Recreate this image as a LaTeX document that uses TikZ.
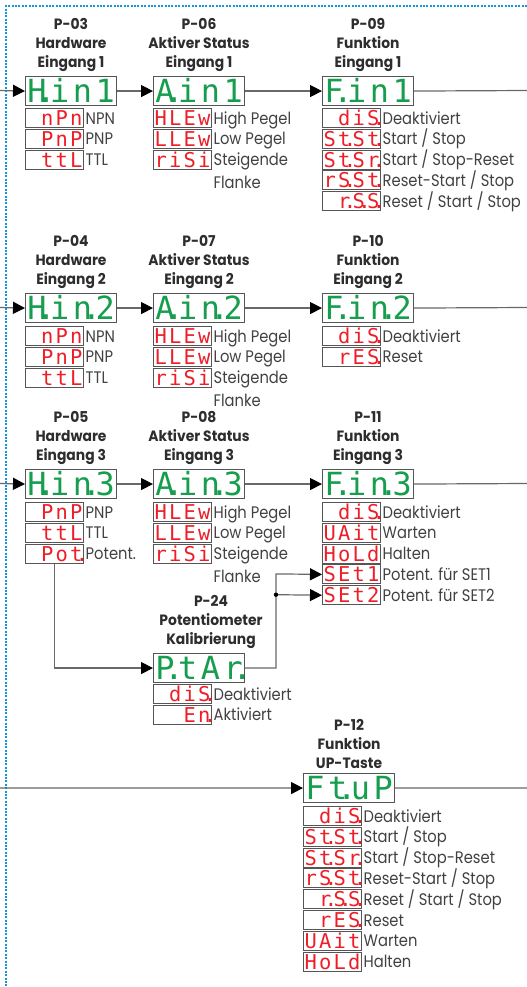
\documentclass[tikz,border=0pt]{standalone}
\usepackage{fontspec}
\setmainfont[FakeStretch=0.88]{Poppins}
\newfontfamily\hdfont[FakeStretch=0.93]{Poppins}
\newfontfamily\segfont{DejaVu Sans Mono}
\usetikzlibrary{arrows.meta,calc}

\definecolor{segG}{RGB}{22,158,78}
\definecolor{segR}{RGB}{238,30,40}
\definecolor{ln}{RGB}{105,105,105}
\definecolor{bd}{RGB}{85,85,85}
\definecolor{dotb}{RGB}{20,150,220}
\definecolor{txt}{RGB}{65,65,65}
\definecolor{hd}{RGB}{45,45,45}

\newlength\cw
\newcommand\cells[4]{\makebox[\cw][c]{#1}\makebox[\cw][c]{#2}\makebox[\cw][c]{#3}\makebox[\cw][c]{#4}}
\newcommand\G[4]{\setlength\cw{22.75bp}\cells{#1}{#2}{#3}{#4}}
\newcommand\R[4]{\setlength\cw{14.5bp}\cells{#1}{#2}{#3}{#4}}
\newcommand\dotp{\rlap{\kern-0.32em.}}
\newcommand\twoline[2]{\smash{\begin{tabular}[t]{@{}l@{}}#1\\#2\end{tabular}}}

\tikzset{
  disp/.style={draw=bd, line width=1.1bp, minimum width=91bp, minimum height=29bp, inner sep=0pt,
    text=segG, font=\segfont\fontsize{32}{32}\selectfont, text height=23.3bp, text depth=0pt, anchor=north west},
  optbox/.style={draw=bd, line width=1bp, minimum width=58bp, minimum height=19bp, inner sep=0pt,
    text=segR, font=\segfont\fontsize{20.5}{20.5}\selectfont, text height=15bp, text depth=0pt, anchor=north west},
  lab/.style={anchor=west, inner sep=1.5bp, text=txt, font=\fontsize{16.8}{22.5}\selectfont, text height=12bp, text depth=0pt},
  hdr/.style={anchor=south, align=center, text=hd, font=\hdfont\bfseries\fontsize{15}{18.8}\selectfont, inner sep=0pt},
  conn/.style={draw=ln, line width=1.2bp},
  arr/.style={conn, -{Triangle[length=12bp,width=12bp,color=black]}},
  frame/.style={draw=dotb, line width=2.5bp, dash pattern=on 2bp off 1.4bp}
}
\newcommand\opt[8]{\node[optbox] (#1) at (#2,#3) {\R{#4}{#5}{#6}{#7}};\node[lab] (#1t) at (#1.east) {#8};}

\begin{document}
\begin{tikzpicture}[x=1bp,y=-1bp]
\useasboundingbox (0,0) rectangle (527,987);
\draw[frame] (527,6) -- (6,6) -- (6,987);

% ---------- Row 1 ----------
\node[disp] (H1) at (25,76) {\G{H\dotp}{i}{n}{1}};
\node[disp] (A1) at (153,76) {\G{A\dotp}{i}{n}{1}};
\node[disp] (F1) at (322,76) {\G{F\dotp}{i}{n}{1}};
\node[hdr] (hH1) at ([yshift=4.5bp]H1.north) {P-03\\Hardware\\Eingang 1};
\node[hdr] (hA1) at ([yshift=4.5bp]A1.north) {P-06\\Aktiver Status\\Eingang 1};
\node[hdr] (hF1) at ([yshift=4.5bp]F1.north) {P-09\\Funktion\\Eingang 1};
\opt{H1a}{25}{108}{ }{n}{P}{n}{NPN}
\opt{H1b}{25}{128.8}{ }{P}{n}{P}{PNP}
\opt{H1c}{25}{149.6}{ }{t}{t}{L}{TTL}
\opt{A1a}{153}{108}{H}{L}{E}{w}{High Pegel}
\opt{A1b}{153}{128.8}{L}{L}{E}{w}{Low Pegel}
\opt{A1c}{153}{149.6}{r}{i}{S}{i}{\twoline{Steigende}{Flanke}}
\opt{F1a}{322}{108}{ }{d}{i}{S\dotp}{Deaktiviert}
\opt{F1b}{322}{128.8}{S}{t\dotp}{S}{t\dotp}{Start / Stop}
\opt{F1c}{322}{149.6}{S}{t\dotp}{S}{r\dotp}{Start / Stop-Reset}
\opt{F1d}{322}{170.4}{r}{S\dotp}{S}{t\dotp}{Reset-Start / Stop}
\opt{F1e}{322}{191.2}{ }{r\dotp}{S\dotp}{S\dotp}{Reset / Start / Stop}
\coordinate (L1) at (0,90.5);
\coordinate (R1) at (527,90.5);
\draw[arr] (L1) -- (H1.west);
\draw[arr] (H1.east) -- (A1.west);
\draw[arr] (A1.east) -- (F1.west);
\draw[conn] (F1.east) -- (R1);

% ---------- Row 2 ----------
\node[disp] (H2) at (25,293) {\G{H\dotp}{i}{n\dotp}{2}};
\node[disp] (A2) at (153,293) {\G{A\dotp}{i}{n\dotp}{2}};
\node[disp] (F2) at (322,293) {\G{F\dotp}{i}{n\dotp}{2}};
\node[hdr] (hH2) at ([yshift=4.5bp]H2.north) {P-04\\Hardware\\Eingang 2};
\node[hdr] (hA2) at ([yshift=4.5bp]A2.north) {P-07\\Aktiver Status\\Eingang 2};
\node[hdr] (hF2) at ([yshift=4.5bp]F2.north) {P-10\\Funktion\\Eingang 2};
\opt{H2a}{25}{326}{ }{n}{P}{n}{NPN}
\opt{H2b}{25}{346.8}{ }{P}{n}{P}{PNP}
\opt{H2c}{25}{367.6}{ }{t}{t}{L}{TTL}
\opt{A2a}{153}{326}{H}{L}{E}{w}{High Pegel}
\opt{A2b}{153}{346.8}{L}{L}{E}{w}{Low Pegel}
\opt{A2c}{153}{367.6}{r}{i}{S}{i}{\twoline{Steigende}{Flanke}}
\opt{F2a}{322}{326}{ }{d}{i}{S\dotp}{Deaktiviert}
\opt{F2b}{322}{346.8}{ }{r}{E}{S\dotp}{Reset}
\coordinate (L2) at (0,307.5);
\coordinate (R2) at (527,307.5);
\draw[arr] (L2) -- (H2.west);
\draw[arr] (H2.east) -- (A2.west);
\draw[arr] (A2.east) -- (F2.west);
\draw[conn] (F2.east) -- (R2);

% ---------- Row 3 ----------
\node[disp] (H3) at (25,469) {\G{H\dotp}{i}{n\dotp}{3}};
\node[disp] (A3) at (153,469) {\G{A\dotp}{i}{n\dotp}{3}};
\node[disp] (F3) at (322,469) {\G{F\dotp}{i}{n\dotp}{3}};
\node[hdr] (hH3) at ([yshift=4.5bp]H3.north) {P-05\\Hardware\\Eingang 3};
\node[hdr] (hA3) at ([yshift=4.5bp]A3.north) {P-08\\Aktiver Status\\Eingang 3};
\node[hdr] (hF3) at ([yshift=4.5bp]F3.north) {P-11\\Funktion\\Eingang 3};
\opt{H3a}{25}{502}{ }{P}{n}{P}{PNP}
\opt{H3b}{25}{522.8}{ }{t}{t}{L}{TTL}
\opt{H3c}{25}{543.6}{ }{P}{o}{t\dotp}{Potent.}
\opt{A3a}{153}{502}{H}{L}{E}{w}{High Pegel}
\opt{A3b}{153}{522.8}{L}{L}{E}{w}{Low Pegel}
\opt{A3c}{153}{543.6}{r}{i}{S}{i}{\twoline{Steigende}{Flanke}}
\opt{F3a}{322}{502}{ }{d}{i}{S\dotp}{Deaktiviert}
\opt{F3b}{322}{522.8}{U}{A}{i}{t}{Warten}
\opt{F3c}{322}{543.6}{H}{o}{L}{d}{Halten}
\opt{F3d}{322}{564.4}{S}{E}{t}{1}{Potent. für SET1}
\opt{F3e}{322}{585.2}{S}{E}{t}{2}{Potent. für SET2}
\coordinate (L3) at (0,483.5);
\coordinate (R3) at (527,483.5);
\draw[arr] (L3) -- (H3.west);
\draw[arr] (H3.east) -- (A3.west);
\draw[arr] (A3.east) -- (F3.west);
\draw[conn] (F3.east) -- (R3);

% ---------- P-24 ----------
\node[disp] (P24) at (153,653) {\G{P\dotp}{t}{A}{r\dotp}};
\node[hdr] (hP24) at ([xshift=12bp,yshift=4.5bp]P24.north) {P-24\\Potentiometer\\Kalibrierung};
\opt{P24a}{153}{684}{ }{d}{i}{S\dotp}{Deaktiviert}
\opt{P24b}{153}{704.8}{ }{ }{E}{n\dotp}{Aktiviert}
\draw[arr] (H3c.south) |- (P24.west);
\coordinate (k) at (276,573.9);
\coordinate (j) at (276,594.7);
\draw[arr] (P24.east) -| (k) -- (F3d.west);
\draw[arr] (j) -- (F3e.west);
\fill[black] (j) circle (2.2bp);

% ---------- Row 4 ----------
\node[disp] (P12) at (303,773) {\G{F}{t\dotp}{u}{P}};
\node[hdr] (hP12) at ([yshift=4.5bp]P12.north) {P-12\\Funktion\\UP-Taste};
\opt{P12a}{303}{806}{ }{d}{i}{S\dotp}{Deaktiviert}
\opt{P12b}{303}{826.8}{S}{t\dotp}{S}{t\dotp}{Start / Stop}
\opt{P12c}{303}{847.6}{S}{t\dotp}{S}{r\dotp}{Start / Stop-Reset}
\opt{P12d}{303}{868.4}{r}{S\dotp}{S}{t\dotp}{Reset-Start / Stop}
\opt{P12e}{303}{889.2}{ }{r\dotp}{S\dotp}{S\dotp}{Reset / Start / Stop}
\opt{P12f}{303}{910}{ }{r}{E}{S\dotp}{Reset}
\opt{P12g}{303}{930.8}{U}{A}{i}{t}{Warten}
\opt{P12h}{303}{951.6}{H}{o}{L}{d}{Halten}
\coordinate (L4) at (0,788);
\coordinate (R4) at (527,788);
\draw[arr] (L4) -- (P12.west);
\draw[conn] (P12.east) -- (R4);
\end{tikzpicture}
\end{document}
